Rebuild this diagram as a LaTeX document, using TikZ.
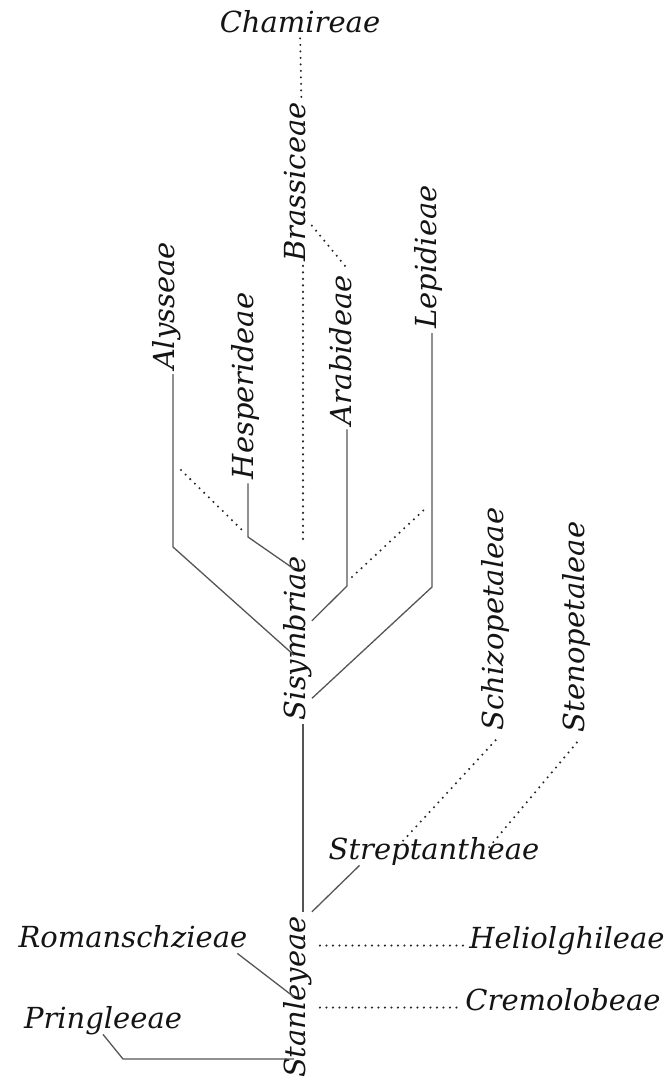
\documentclass[tikz,border=0pt]{standalone}
\usepackage{fontspec}
\setmainfont{DejaVu Serif}
\usetikzlibrary{calc}
\definecolor{tribec}{HTML}{141414}
\definecolor{branchc}{HTML}{555555}
\definecolor{dotc}{HTML}{262626}

\begin{document}
\begin{tikzpicture}[x=1pt,y=-1pt,
  tribe/.style={font=\fontsize{29}{34}\selectfont\itshape,text=tribec,inner sep=4pt,text height=0.72em,text depth=0.22em},
  vtribe/.style={tribe,rotate=90},
  branch/.style={draw=branchc,line width=1.3pt},
  dotline/.style={draw=dotc,line width=2.3pt,line cap=round,dash pattern=on 0pt off 6.5pt}]
\useasboundingbox (0,0) rectangle (670,1085);
\node[tribe,anchor=base] (cham) at (300,32) {Chamireae};
\node[vtribe] (bras) at (303,182) {Brassiceae};
\node[vtribe] (alys) at (172,306) {Alysseae};
\node[vtribe] (hesp) at (251,386) {Hesperideae};
\node[vtribe] (arab) at (349,350) {Arabideae};
\node[vtribe] (lepi) at (434,257) {Lepidieae};
\node[vtribe] (sisy) at (303,638) {Sisymbriae};
\node[vtribe] (schi) at (501,619) {Schizopetaleae};
\node[vtribe] (sten) at (582,627) {Stenopetaleae};
\node[tribe,anchor=base] (stre) at (434,859) {Streptantheae};
\node[vtribe] (stan) at (303,997) {Stanleyeae};
\node[tribe,anchor=base] (roma) at (133,947) {Romanschzieae};
\node[tribe,anchor=base] (prin) at (103,1028) {Pringleeae};
\node[tribe,anchor=base] (heli) at (567,948) {Heliolghileae};
\node[tribe,anchor=base] (crem) at (563,1010) {Cremolobeae};
\coordinate (alysbend) at (173,547);
\coordinate (hespbend) at (248,537);
\coordinate (arabbend) at (347,586);
\coordinate (lepibend) at (432,587);
\coordinate (pringbend) at (123,1059);
\coordinate (alysdot) at (181,470);
\coordinate (hespdot) at (243,531);
\coordinate (arabdot) at (352,577);
\coordinate (lepidot) at (426,508);
\draw[dotline] (cham) -- (bras);
\draw[dotline,shorten >=12pt] (bras) -- (sisy);
\draw[dotline] ($(bras.south west)!0.24!(bras.south east)$) -- (arab.east);
\draw[branch] (alys.west -| alysbend) -- (alysbend) -- ($(sisy.north west)!0.4!(sisy.north east)$);
\draw[branch] (hesp.west -| hespbend) -- (hespbend) -- ($(sisy.north west)!0.9!(sisy.north east)$);
\draw[dotline] (alysdot) -- (hespdot);
\draw[branch] (arab.west -| arabbend) -- (arabbend) -- ($(sisy.south west)!0.6!(sisy.south east)$);
\draw[dotline] (arabdot) -- (lepidot);
\draw[branch] (lepi.west -| lepibend) -- (lepibend) -- ($(sisy.south west)!0.15!(sisy.south east)$);
\draw[branch] (sisy) -- (stan);
\draw[dotline,shorten <=8pt] (schi.west) -- ($(stre.north west)!0.33!(stre.north east)$);
\draw[dotline,shorten <=8pt] (sten.west) -- ($(stre.north west)!0.75!(stre.north east)$);
\draw[branch] ($(stre.south west)!0.16!(stre.south east)$) -- (stan.south east);
\draw[dotline,shorten <=8pt] (heli.west -| stan.south) -- (heli.west);
\draw[dotline,shorten <=8pt] (crem.west -| stan.south) -- (crem.west);
\draw[branch] ($(roma.south west)!0.94!(roma.south east)$) -- (stan.north);
\draw[branch] (prin.south) -- (pringbend) -- (pringbend -| stan.north);
\end{tikzpicture}
\end{document}
